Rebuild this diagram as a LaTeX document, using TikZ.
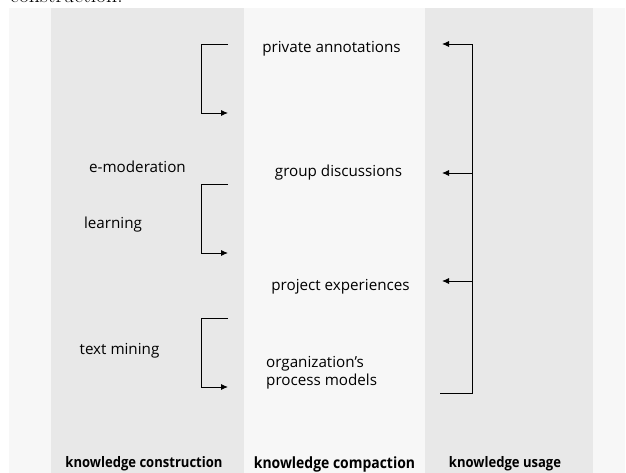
\documentclass[tikz,border=0pt]{standalone}
\usepackage{fontspec}
\usetikzlibrary{arrows.meta}
\newfontfamily\txtfont{Open Sans}
\newfontfamily\labfont[FakeStretch=0.9]{Open Sans}
\definecolor{paneldark}{HTML}{E8E8E8}
\definecolor{panellight}{HTML}{F7F7F7}
\tikzset{
  item/.style={font=\txtfont\fontsize{15.2bp}{18bp}\selectfont, inner sep=0pt, anchor=base},
  itemleft/.style={item, anchor=base west, align=left},
  phase/.style={font=\labfont\bfseries\fontsize{14.5bp}{17bp}\selectfont, inner sep=0pt, anchor=base},
  phasebig/.style={phase, font=\labfont\bfseries\fontsize{15.5bp}{18bp}\selectfont},
  link/.style={line width=0.9bp, draw=black},
  linkarrow/.style={link, -{Latex[length=7bp,width=6bp]}},
}
\begin{document}
\begin{tikzpicture}[x=1bp, y=-1bp]
  \useasboundingbox (0,0) rectangle (626,473);
  % running text of the page above the figure
  \begin{scope}
    \clip (0,0) rectangle (626,473);
    \node[inner sep=0pt, anchor=base west, font=\fontsize{21.7bp}{24bp}\selectfont] (runtext) at (10,2.5) {construction.};
  \end{scope}
  % background bands
  \fill[panellight] (9,8.3) rectangle (625,473);
  \fill[paneldark] (51,8.3) rectangle (244,473);
  \fill[paneldark] (425,8.3) rectangle (593,473);

  % middle column: knowledge items
  \node[item] (priv) at (331.5,52.5) {private annotations};
  \node[item] (group) at (338.5,176.7) {group discussions};
  \node[item] (proj) at (340.5,290.7) {project experiences};
  \node[itemleft] (org) at (266,385) {organization’s\\process models};

  % left column: construction methods
  \node[item] (emod) at (137.5,172.3) {e-moderation};
  \node[item] (learn) at (113,228.3) {learning};
  \node[item] (tmine) at (119.5,354.3) {text mining};

  % column titles
  \node[phase] (kcons) at (144,467) {knowledge construction};
  \node[phasebig] (kcomp) at (334.5,468) {knowledge compaction};
  \node[phase] (kuse) at (505,467) {knowledge usage};

  % construction brackets
  \coordinate (b1a) at (228,44);   \coordinate (b1b) at (228,113);
  \coordinate (b2a) at (228,184);  \coordinate (b2b) at (228,253);
  \coordinate (b3a) at (228,318);  \coordinate (b3b) at (228,387);
  \draw[linkarrow] (b1a) -| (201,113) -- (b1b);
  \draw[linkarrow] (b2a) -| (201,253) -- (b2b);
  \draw[linkarrow] (b3a) -| (201,387) -- (b3b);

  % usage feedback line
  \coordinate (u0) at (440,393);
  \coordinate (u1) at (442,44);
  \coordinate (u2) at (442,173);
  \coordinate (u3) at (442,281);
  \draw[link] (u0) -- (472,393) -- (472,44);
  \draw[linkarrow] (472,44) -- (u1);
  \draw[linkarrow] (472,173) -- (u2);
  \draw[linkarrow] (472,281) -- (u3);
\end{tikzpicture}
\end{document}
